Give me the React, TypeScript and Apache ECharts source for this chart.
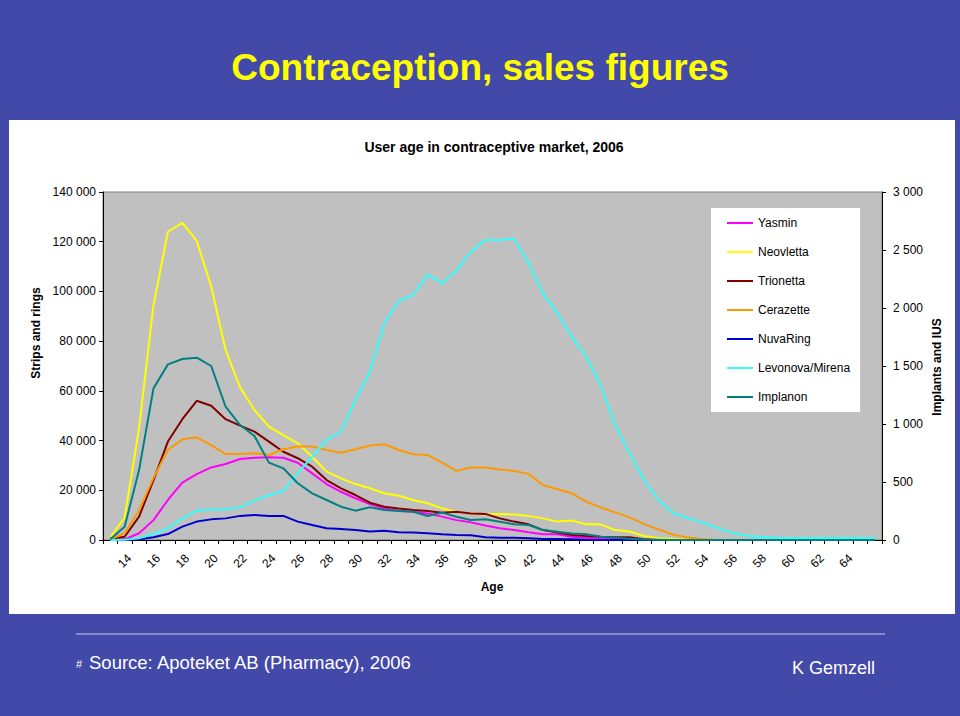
import React, { useEffect, useRef } from "react";
import * as echarts from "echarts";

const ages: string[] = [];
for (let a = 13; a <= 66; a++) ages.push(String(a));

const seriesNames = ["Yasmin", "Neovletta", "Trionetta", "Cerazette", "NuvaRing", "Levonova/Mirena", "Implanon"];
const seriesColors = ["#FF00FF", "#FFFF00", "#800000", "#FF9900", "#0000CC", "#33FFFF", "#008080"];

const pad = (arr: number[]) => arr.concat(new Array(Math.max(0, 54 - arr.length)).fill(0));

const yasmin = pad([0, 270, 2700, 8000, 16100, 23100, 26500, 29200, 30600, 32600, 33100, 33300, 33100, 31100, 26800, 22500, 19400, 16800, 14500, 12700, 11800, 11400, 10700, 9400, 8000, 7100, 5800, 4700, 4000, 3100, 2300, 2300, 1300, 900, 500, 300, 200, 100]);
const neovletta = pad([1000, 9000, 45000, 94500, 124000, 127600, 120300, 102000, 76400, 61400, 52300, 45600, 42200, 38900, 33500, 27500, 24800, 22500, 20800, 18800, 17800, 16100, 14800, 12700, 11400, 10700, 10300, 10500, 10300, 9700, 8700, 7400, 7800, 6300, 6300, 4000, 3400, 1600, 700, 400, 200, 100]);
const trionetta = pad([500, 1300, 9400, 24100, 39600, 48600, 56000, 54000, 48600, 46000, 43600, 39600, 35500, 32900, 29500, 24100, 20800, 18100, 15000, 13400, 12700, 12100, 11700, 11000, 11400, 10700, 10500, 8700, 7400, 6300, 4000, 3000, 2000, 1600, 1300, 1100, 1100, 300]);
const cerazette = pad([300, 2700, 12000, 25000, 36200, 40500, 41300, 38200, 34600, 34600, 34900, 34200, 36500, 37600, 37600, 36200, 35100, 36500, 38000, 38500, 36200, 34500, 34200, 31100, 27800, 29200, 29200, 28400, 27800, 26600, 22100, 20400, 18800, 15400, 13100, 11100, 9100, 6500, 4200, 2200, 1000, 400]);
const nuvaRing = pad([0, 0, 300, 1100, 2400, 5400, 7400, 8300, 8700, 9700, 10100, 9700, 9700, 7400, 6000, 4700, 4400, 4000, 3400, 3700, 3100, 3000, 2700, 2300, 2000, 1900, 1100, 900, 900, 700, 400, 400, 300, 100]);
const levonovaMirena = [0, 3, 14, 52, 100, 187, 253, 264, 264, 282, 339, 388, 422, 575, 718, 862, 934, 1207, 1451, 1868, 2060, 2112, 2290, 2213, 2322, 2486, 2586, 2586, 2598, 2385, 2126, 1954, 1753, 1580, 1336, 991, 747, 517, 345, 235, 190, 152, 109, 66, 40, 26, 20, 15, 15, 15, 15, 15, 15, 15];
const implanon = pad([6, 115, 603, 1307, 1514, 1560, 1572, 1500, 1149, 991, 897, 667, 618, 489, 402, 345, 287, 253, 282, 259, 250, 244, 207, 236, 201, 172, 178, 158, 135, 129, 86, 72, 57, 49, 29, 20, 11, 5, 3]);

const seriesData = [yasmin, neovletta, trionetta, cerazette, nuvaRing, levonovaMirena, implanon];
const seriesAxis = [0, 0, 0, 0, 0, 1, 1];

const FONT = '"Liberation Sans", Arial, sans-serif';
const fmt = (v: number) => String(v).replace(/\B(?=(\d{3})+(?!\d))/g, " ");

export default function App() {
  const ref = useRef<HTMLDivElement>(null);
  useEffect(() => {
    if (!ref.current) return;
    const chart = echarts.init(ref.current, undefined, { renderer: "svg" });
    const axisCommon = {
      axisLine: { show: true, lineStyle: { color: "#000", width: 1 } },
      axisTick: { show: true, length: 4, lineStyle: { color: "#000" } },
      splitLine: { show: false },
    };
    chart.setOption({
      animation: false,
      backgroundColor: "#4349A8",
      textStyle: { fontFamily: FONT },
      graphic: [
        { type: "rect", z: -1, shape: { x: 9, y: 120, width: 946, height: 494 }, style: { fill: "#FFFFFF" } },
        { type: "text", x: 480, y: 67, style: { text: "Contraception, sales figures", fill: "#FFFF00", font: `bold 37px ${FONT}`, align: "center", verticalAlign: "middle" } },
        { type: "text", x: 494, y: 147, style: { text: "User age in contraceptive market, 2006", fill: "#000", font: `bold 14px ${FONT}`, align: "center", verticalAlign: "middle" } },
        { type: "text", x: 36, y: 333, rotation: Math.PI / 2, style: { text: "Strips and rings", fill: "#000", font: `bold 12px ${FONT}`, align: "center", verticalAlign: "middle" } },
        { type: "text", x: 937, y: 367, rotation: Math.PI / 2, style: { text: "Implants and IUS", fill: "#000", font: `bold 12px ${FONT}`, align: "center", verticalAlign: "middle" } },
        { type: "text", x: 492, y: 587, style: { text: "Age", fill: "#000", font: `bold 12px ${FONT}`, align: "center", verticalAlign: "middle" } },
        { type: "line", shape: { x1: 76, y1: 634, x2: 885, y2: 634 }, style: { stroke: "#C8CBEA", lineWidth: 1 } },
        { type: "text", x: 76, y: 664, style: { text: "#", fill: "#FFFFFF", font: `11px ${FONT}`, align: "left", verticalAlign: "middle" } },
        { type: "text", x: 89, y: 662, style: { text: "Source: Apoteket AB (Pharmacy), 2006", fill: "#FFFFFF", font: `18.5px ${FONT}`, align: "left", verticalAlign: "middle" } },
        { type: "text", x: 792, y: 668, style: { text: "K Gemzell", fill: "#FFFFFF", font: `18px ${FONT}`, align: "left", verticalAlign: "middle" } },
      ],
      grid: {
        left: 103, right: 78, top: 192, bottom: 176,
        show: true, backgroundColor: "#C0C0C0", borderColor: "#808080", borderWidth: 1,
      },
      legend: {
        data: seriesNames,
        orient: "vertical",
        left: 711, top: 208,
        backgroundColor: "#FFFFFF",
        padding: [9, 10, 9, 16],
        itemGap: 17,
        itemWidth: 26, itemHeight: 2,
        icon: "rect",
        textStyle: { fontSize: 12, color: "#000", fontFamily: FONT },
      },
      xAxis: {
        type: "category",
        data: ages,
        boundaryGap: true,
        axisLine: { show: true, lineStyle: { color: "#000", width: 1 } },
        axisTick: { show: true, interval: 0, length: 4, lineStyle: { color: "#000" } },
        axisLabel: {
          interval: (i: number) => i % 2 === 1 && i <= 51,
          rotate: 45, align: "center", verticalAlign: "middle", margin: 21,
          fontSize: 12, color: "#000", fontFamily: FONT,
        },
      },
      yAxis: [
        {
          type: "value", position: "left", min: 0, max: 140000, interval: 20000,
          ...axisCommon,
          axisLabel: { formatter: fmt, margin: 7, fontSize: 12, color: "#000", fontFamily: FONT },
        },
        {
          type: "value", position: "right", min: 0, max: 3000, interval: 500,
          ...axisCommon,
          axisLabel: { formatter: fmt, margin: 11, fontSize: 12, color: "#000", fontFamily: FONT },
        },
      ],
      series: seriesNames.map((name, k) => ({
        name,
        type: "line",
        yAxisIndex: seriesAxis[k],
        data: seriesData[k],
        symbol: "none",
        showSymbol: false,
        color: seriesColors[k],
        lineStyle: { width: 2, color: seriesColors[k] },
      })),
    });
    return () => chart.dispose();
  }, []);
  return <div ref={ref} style={{ position: "absolute", left: 0, top: 0, width: 960, height: 716 }} />;
}
